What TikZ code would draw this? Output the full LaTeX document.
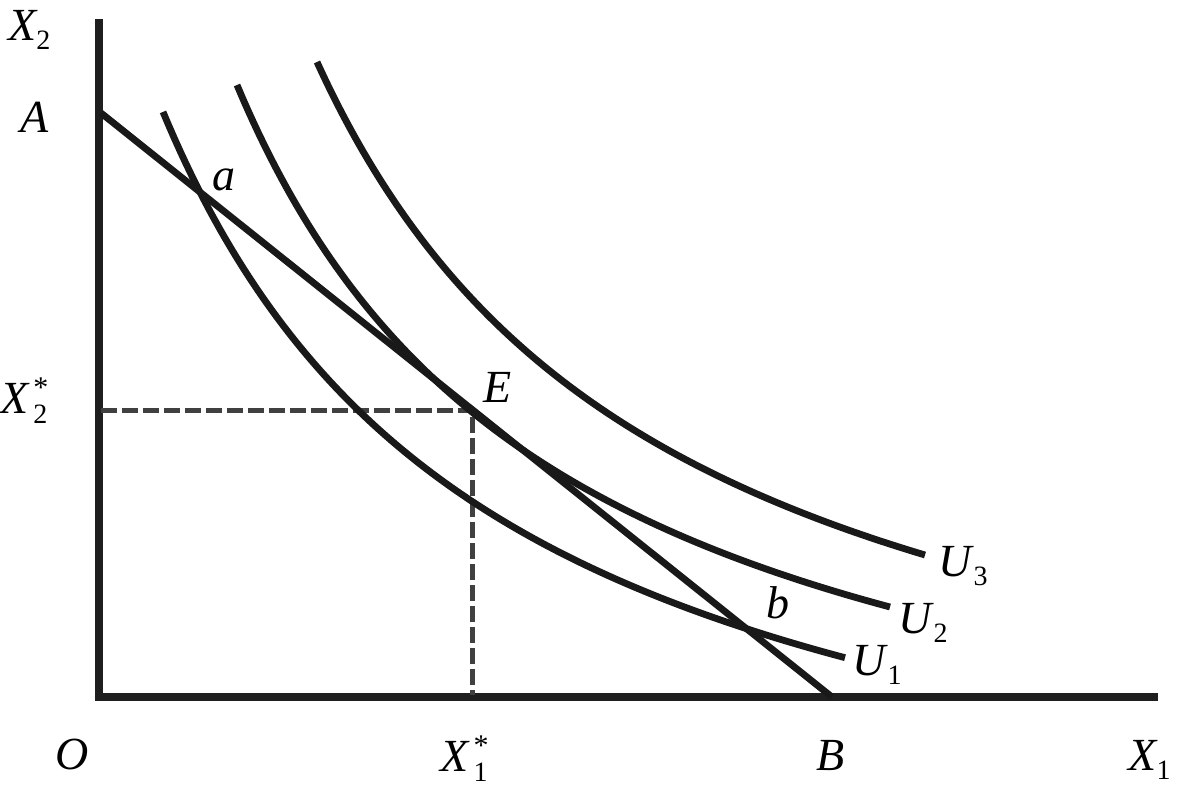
\documentclass[tikz,border=0pt]{standalone}
\usepackage{fontspec}
\setmainfont{Liberation Serif}
\newcommand\lbl[2]{\itshape #1\raisebox{-4.5pt}{\fontsize{14}{14}\selectfont\upshape #2}}
\newcommand\lbls[2]{\itshape #1\kern2.5pt\rlap{\raisebox{8pt}{\fontsize{15}{15}\selectfont\upshape *}}\raisebox{-5pt}{\fontsize{14}{14}\selectfont\upshape #2}}
\tikzset{
  axis/.style={line width=4pt, color=black!88, line join=miter},
  curve/.style={line width=3.4pt, color=black!90, line cap=butt},
  guide/.style={line width=2.5pt, color=black!75, dash pattern=on 8pt off 2.5pt},
  lab/.style={anchor=base west, inner sep=0pt, font=\fontsize{23}{26}\selectfont},
}
\begin{document}
\begin{tikzpicture}[x=0.5pt, y=-0.5pt]
\useasboundingbox (0,0) rectangle (1181,799);
% axes
\coordinate (top) at (99,19);
\coordinate (O) at (99,697);
\coordinate (right) at (1158,697);
\draw[axis] (top) -- (O) -- (right);
% budget line
\coordinate (A) at (101,113);
\coordinate (B) at (832,697);
\coordinate (E) at (472,410);
\coordinate (Ey) at (101,410);
\coordinate (Ex) at (472,695);
\draw[guide] (Ey) -- (E) -- (Ex);
\draw[curve] (A) -- (B);
% indifference curves
\draw[curve] plot[domain=163:845, samples=120] (\x, {929.7 - 2779.7/((\x+176.9)/100)});
\draw[curve] plot[domain=237:890, samples=120] (\x, {870.2 - 2585.62/((\x+92.3)/100)});
\draw[curve] plot[domain=317:925, samples=120] (\x, {844.3 - 2791.25/((\x+39.8)/100)});
% labels
\node[lab] (lX2) at (8,40) {\lbl{X}{2}};
\node[lab] (lA) at (20,132) {\itshape A};
\node[lab] (la) at (212,190) {\itshape a};
\node[lab] (lE) at (483,402) {\itshape E};
\node[lab] (lX2s) at (0,413) {\lbls{X}{2}};
\node[lab] (lO) at (55,769) {\itshape O};
\node[lab] (lX1s) at (440,771) {\lbls{X}{1}};
\node[lab] (lB) at (816,770) {\itshape B};
\node[lab] (lX1) at (1128,770) {\lbl{X}{1}};
\node[lab] (lb) at (766,618) {\itshape b};
\node[lab] (lU3) at (938,576) {\lbl{U\kern1pt}{3}};
\node[lab] (lU2) at (898,633) {\lbl{U\kern1pt}{2}};
\node[lab] (lU1) at (852,675) {\lbl{U\kern1pt}{1}};
\end{tikzpicture}
\end{document}
